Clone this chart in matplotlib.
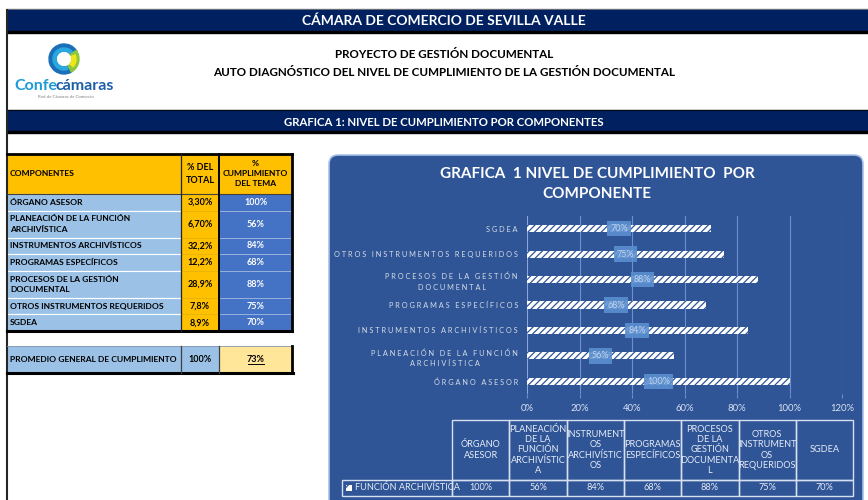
import matplotlib.pyplot as plt
from matplotlib.patches import Rectangle, FancyBboxPatch, Wedge

plt.rcParams['font.family'] = ['Lato', 'DejaVu Sans']
plt.rcParams['hatch.linewidth'] = 0.9

# ---- data ----
componentes = ['ÓRGANO ASESOR', 'PLANEACIÓN DE LA FUNCIÓN\nARCHIVÍSTICA',
               'INSTRUMENTOS ARCHIVÍSTICOS', 'PROGRAMAS ESPECÍFICOS',
               'PROCESOS DE LA GESTIÓN\nDOCUMENTAL', 'OTROS INSTRUMENTOS REQUERIDOS',
               'SGDEA']
pct_total = ['3,30%', '6,70%', '32,2%', '12,2%', '28,9%', '7,8%', '8,9%']
cumplimiento = [100, 56, 84, 68, 88, 75, 70]
promedio_total = '100%'
promedio_cumpl = '73%'
tabla_cols = ['ÓRGANO\nASESOR', 'PLANEACIÓN\nDE LA\nFUNCIÓN\nARCHIVÍSTIC\nA',
              'INSTRUMENT\nOS\nARCHIVÍSTIC\nOS', 'PROGRAMAS\nESPECÍFICOS',
              'PROCESOS\nDE LA\nGESTIÓN\nDOCUMENTA\nL',
              'OTROS\nINSTRUMENT\nOS\nREQUERIDOS', 'SGDEA']
serie = 'FUNCIÓN ARCHIVÍSTICA'
x_ticks = [0, 20, 40, 60, 80, 100, 120]

NAVY = '#002060'
GOLD = '#FFC000'
LBLUE = '#9BC2E6'
MBLUE = '#4472C4'
CHART = '#2F5597'
FS = 6.1

fig = plt.figure(figsize=(8.68, 5.0), dpi=100)
bg = fig.add_axes([0, 0, 1, 1])
bg.set_xlim(0, 868)
bg.set_ylim(500, 0)
bg.axis('off')

# ---- sheet header ----
bg.add_patch(Rectangle((7, 9), 861, 1.5, color='#7F7F7F'))
bg.add_patch(Rectangle((7, 10), 861, 21, color=NAVY))
bg.add_patch(Rectangle((7, 31), 861, 2, color='black'))
bg.text(444, 21, 'CÁMARA DE COMERCIO DE SEVILLA VALLE', ha='center', va='center',
        color='white', fontsize=10, fontweight='bold')
bg.text(444, 54, 'PROYECTO DE GESTIÓN DOCUMENTAL', ha='center', va='center',
        fontsize=8.4, fontweight='bold')
bg.text(444, 72, 'AUTO DIAGNÓSTICO DEL NIVEL DE CUMPLIMIENTO DE LA GESTIÓN DOCUMENTAL',
        ha='center', va='center', fontsize=8.4, fontweight='bold')
bg.add_patch(Rectangle((7, 110), 861, 1.5, color='black'))
bg.add_patch(Rectangle((7, 111), 861, 20, color=NAVY))
bg.add_patch(Rectangle((7, 131), 861, 2, color='black'))
bg.text(444, 122, 'GRAFICA 1: NIVEL DE CUMPLIMIENTO POR COMPONENTES', ha='center',
        va='center', color='white', fontsize=8.2, fontweight='bold')
bg.plot([7, 7], [10, 500], color='#262626', lw=1.5)

# logo
bg.add_patch(Wedge((64, 59), 15, 60, 330, width=7, color='#1B6FB8'))
bg.add_patch(Wedge((64, 59), 11, 70, 320, width=3, color='#29A9E0'))
bg.add_patch(Wedge((64, 59), 15, -35, 60, width=7, color='#8DC63F'))
bg.add_patch(Wedge((64, 59), 12, -20, 40, width=4, color='#F1E616'))
bg.text(14, 86, 'Confe', ha='left', va='center', color='#1E9AD6',
        fontsize=11.5, fontweight='bold')
bg.text(55, 86, 'cámaras', ha='left', va='center', color='#1C5FA8',
        fontsize=11.5, fontweight='bold')
bg.text(66, 97.5, 'Red de Cámaras de Comercio', ha='center', va='center',
        color='#808080', fontsize=3.2)

# ---- left table ----
c0, c1, c2, c3 = 7, 181, 219, 292
top, hdr = 154, 194
heights = [16.6 if '\n' not in c else 27 for c in componentes]
bg.add_patch(Rectangle((c0, top), c1 - c0, hdr - top, fc=GOLD, ec='none'))
bg.add_patch(Rectangle((c1, top), c2 - c1, hdr - top, fc=GOLD, ec='none'))
bg.add_patch(Rectangle((c2, top), c3 - c2, hdr - top, fc=GOLD, ec='none'))
bg.text(10, 174, 'COMPONENTES', ha='left', va='center', fontsize=FS, fontweight='bold')
bg.text((c1 + c2) / 2, 174, '% DEL\nTOTAL', ha='center', va='center', fontsize=FS + 0.4,
        fontweight='bold', linespacing=1.5)
bg.text((c2 + c3) / 2, 174, '%\nCUMPLIMIENTO\nDEL TEMA', ha='center', va='center',
        fontsize=FS, fontweight='bold', linespacing=1.5)

y = hdr
for comp, pt, cu, h in zip(componentes, pct_total, cumplimiento, heights):
    bg.add_patch(Rectangle((c0, y), c1 - c0, h, fc=LBLUE, ec='white', lw=0.8))
    bg.add_patch(Rectangle((c1, y), c2 - c1, h, fc=GOLD, ec='#E8B000', lw=0.5))
    bg.add_patch(Rectangle((c2, y), c3 - c2, h, fc=MBLUE, ec='#9DB5E0', lw=0.6))
    bg.text(10, y + h / 2, comp, ha='left', va='center', fontsize=FS,
            fontweight='bold', linespacing=1.6)
    bg.text((c1 + c2) / 2, y + h / 2, pt, ha='center', va='center', fontsize=FS + 0.4,
            fontweight='bold')
    bg.text((c2 + c3) / 2, y + h / 2, f'{cu}%', ha='center', va='center', fontsize=FS + 0.4,
            fontweight='bold', color='white')
    y += h
bot = y
bg.plot([c0, c3], [top, top], color='black', lw=2)
bg.plot([c0, c3], [hdr, hdr], color='#404040', lw=0.8)
bg.plot([c0, c3], [bot, bot], color='black', lw=2.2)
bg.plot([c1, c1], [top, bot], color='#262626', lw=0.9)
bg.plot([c2, c2], [top, bot], color='black', lw=1.4)
bg.plot([c3, c3], [top, bot], color='black', lw=2)

# promedio row
p0, p1 = 346, 373
bg.add_patch(Rectangle((c0, p0), c1 - c0, p1 - p0, fc=LBLUE, ec='none'))
bg.add_patch(Rectangle((c1, p0), c2 - c1, p1 - p0, fc=LBLUE, ec='none'))
bg.add_patch(Rectangle((c2, p0), c3 - c2, p1 - p0, fc='#FFE699', ec='none'))
bg.plot([c0, c3], [p0, p0], color='#8497B0', lw=0.6)
bg.plot([c0, c3 + 1], [p1, p1], color='black', lw=2.2)
bg.plot([c1, c1], [p0, p1], color='#404040', lw=0.9)
bg.plot([c2, c2], [p0, p1], color='#404040', lw=0.9)
bg.plot([c3, c3], [p0, p1], color='black', lw=2)
pm = (p0 + p1) / 2
bg.text(10, pm, 'PROMEDIO GENERAL DE CUMPLIMIENTO', ha='left', va='center',
        fontsize=FS, fontweight='bold')
bg.text((c1 + c2) / 2, pm, promedio_total, ha='center', va='center', fontsize=FS + 0.4,
        fontweight='bold')
bg.text((c2 + c3) / 2, pm, promedio_cumpl, ha='center', va='center', fontsize=FS + 0.4,
        fontweight='bold')
bg.plot([(c2 + c3) / 2 - 8, (c2 + c3) / 2 + 8], [pm + 4.8, pm + 4.8], color='black', lw=0.7)

# ---- chart box ----
bg.add_patch(FancyBboxPatch((329, 155), 534, 370,
                            boxstyle='round,pad=0,rounding_size=9',
                            fc=CHART, ec='#A9C1E8', lw=1.2))
bg.text(597, 174, 'GRAFICA  1 NIVEL DE CUMPLIMIENTO  POR', ha='center', va='center',
        color='white', fontsize=11, fontweight='bold')
bg.text(597, 194, 'COMPONENTE', ha='center', va='center',
        color='white', fontsize=11, fontweight='bold')

# data table under chart
tx0, tw = 452, 57.3
r0, r1, r2 = 420, 480, 496
lc = '#D6E0F0'
for i, (lab, v) in enumerate(zip(tabla_cols, cumplimiento)):
    xl = tx0 + i * tw
    bg.add_patch(Rectangle((xl, r0), tw, r1 - r0, fc='none', ec=lc, lw=1))
    bg.add_patch(Rectangle((xl, r1), tw, r2 - r1, fc='none', ec=lc, lw=1))
    bg.text(xl + tw / 2, (r0 + r1) / 2, lab, ha='center', va='center',
            color='#E6ECF6', fontsize=6.6, linespacing=1.2)
    bg.text(xl + tw / 2, (r1 + r2) / 2, f'{v}%', ha='center', va='center',
            color='#E6ECF6', fontsize=6.6)
bg.add_patch(Rectangle((342, r1), tx0 - 342, r2 - r1, fc='none', ec=lc, lw=1))
bg.add_patch(Rectangle((346, 485), 6, 6, fc='white', ec=CHART, hatch='///', lw=0))
bg.text(355, (r1 + r2) / 2, serie, ha='left', va='center', color='#E6ECF6', fontsize=6.6)

# ---- bar chart ----
ax = fig.add_axes([527 / 868, (500 - 394) / 500, 315 / 868, 178 / 500])
ax.patch.set_alpha(0)
pos = list(range(len(componentes)))
ax.barh(pos, cumplimiento, height=0.28, color='white', edgecolor=CHART,
        hatch='/////', lw=0, zorder=3)
for p, v in zip(pos, cumplimiento):
    ax.text(v / 2, p, f'{v}%', ha='center', va='center', fontsize=6.5,
            color='#BFD3EE', zorder=5,
            bbox=dict(boxstyle='square,pad=0.35', fc='#5B8FD0', ec='none', alpha=0.9))
ax.set_xlim(0, 120)
ax.set_ylim(-0.5, 6.5)
ax.set_xticks(x_ticks)
ax.set_xticklabels([f'{t}%' for t in x_ticks], color='#D9E1F2', fontsize=6.8)


def spaced(s):
    return '\n'.join('   '.join(' '.join(w) for w in line.split(' '))
                     for line in s.split('\n'))


ax.set_yticks(pos)
ax.set_yticklabels([spaced(c) for c in componentes], color='#D6DCE5', fontsize=5.3,
                   multialignment='center', linespacing=1.6)
ax.tick_params(axis='y', length=0, pad=6.5)
ax.tick_params(axis='x', length=3, color='#6E8FCB', pad=4)
ax.grid(axis='x', color='#6E8FCB', lw=0.8, zorder=0)
for s in ax.spines.values():
    s.set_visible(False)
ax.axvline(0, color='#8FAADC', lw=1.3, zorder=2)

fig.savefig('out.png', dpi=100)
